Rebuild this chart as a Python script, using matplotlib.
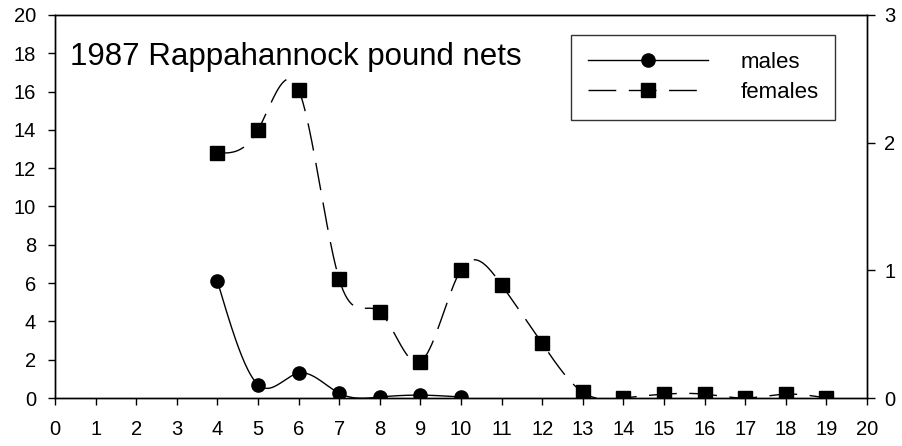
import numpy as np
import matplotlib
matplotlib.use("Agg")
from matplotlib import pyplot as plt
from matplotlib.lines import Line2D

plt.rcParams["font.family"] = ["Liberation Sans", "DejaVu Sans"]

male_age = [4, 5, 6, 7, 8, 9, 10]
male_val = [6.1, 0.7, 1.3, 0.25, 0.05, 0.15, 0.05]

female_age = [4, 5, 6, 7, 8, 9, 10, 11, 12, 13, 14, 15, 16, 17, 18, 19]
female_val = [12.8, 14.0, 16.1, 6.2, 4.5, 1.9, 6.7, 5.9, 2.85, 0.3,
              0.0, 0.2, 0.2, 0.0, 0.2, 0.0]

x_ticks = list(range(0, 21))
left_ticks = list(range(0, 21, 2))
right_ticks = [0, 1, 2, 3]


def natural_spline(x, y, n=40):
    """Natural cubic spline through the points, like the smoothed lines."""
    x = np.asarray(x, float)
    y = np.asarray(y, float)
    k = len(x)
    h = np.diff(x)
    a = np.zeros((k, k))
    b = np.zeros(k)
    a[0, 0] = 1
    a[-1, -1] = 1
    for i in range(1, k - 1):
        a[i, i - 1] = h[i - 1]
        a[i, i] = 2 * (h[i - 1] + h[i])
        a[i, i + 1] = h[i]
        b[i] = 3 * ((y[i + 1] - y[i]) / h[i] - (y[i] - y[i - 1]) / h[i - 1])
    c = np.linalg.solve(a, b)
    xs, ys = [], []
    for i in range(k - 1):
        t = np.linspace(0, h[i], n, endpoint=(i == k - 2))
        bi = (y[i + 1] - y[i]) / h[i] - h[i] * (2 * c[i] + c[i + 1]) / 3
        di = (c[i + 1] - c[i]) / (3 * h[i])
        xs.append(x[i] + t)
        ys.append(y[i] + bi * t + c[i] * t ** 2 + di * t ** 3)
    return np.concatenate(xs), np.concatenate(ys)


fig = plt.figure(figsize=(9.03, 4.46), dpi=100)
ax = fig.add_axes([55 / 903, 48 / 446, 812 / 903, 383 / 446])

mx, my = natural_spline(male_age, male_val)
fx, fy = natural_spline(female_age, female_val)

ax.plot(mx, my, color="black", lw=1.0)
ax.plot(male_age, male_val, "o", color="black", ms=9.5)
ax.plot(fx, fy, color="black", lw=1.0, dashes=(20, 9))
ax.plot(female_age, female_val, "s", color="black", ms=9.5)

ax.set_xlim(0, 20)
ax.set_ylim(0, 20)
ax.set_xticks(x_ticks)
ax.set_yticks(left_ticks)
ax.tick_params(direction="out", length=5, width=1, labelsize=14.5, colors="black")
ax.tick_params(axis="x", pad=11)
ax.tick_params(axis="y", pad=8.5)

ax2 = ax.twinx()
ax2.set_ylim(0, 3)
ax2.set_yticks(right_ticks)
ax2.tick_params(direction="out", length=5.5, width=1, labelsize=14.5, pad=7)

for a in (ax, ax2):
    for s in a.spines.values():
        s.set_linewidth(1)

ax.text(0.37, 17.4, "1987 Rappahannock pound nets", fontsize=22.5,
        va="baseline")

handles = [
    Line2D([], [], color="black", lw=1.0, marker="o", ms=9.5),
    Line2D([], [], color="black", lw=1.0, marker="s", ms=9.5, dashes=(20, 9)),
]
leg = ax.legend(handles, ["males", "females"], loc="upper right",
                bbox_to_anchor=(780 / 812, 1 - 20 / 383), fontsize=16,
                frameon=True, fancybox=False, edgecolor="black",
                handlelength=5.4, handletextpad=1.45, borderpad=0.75,
                labelspacing=0.42, borderaxespad=0)
leg.get_frame().set_linewidth(1)

fig.savefig("out.png", dpi=100)
